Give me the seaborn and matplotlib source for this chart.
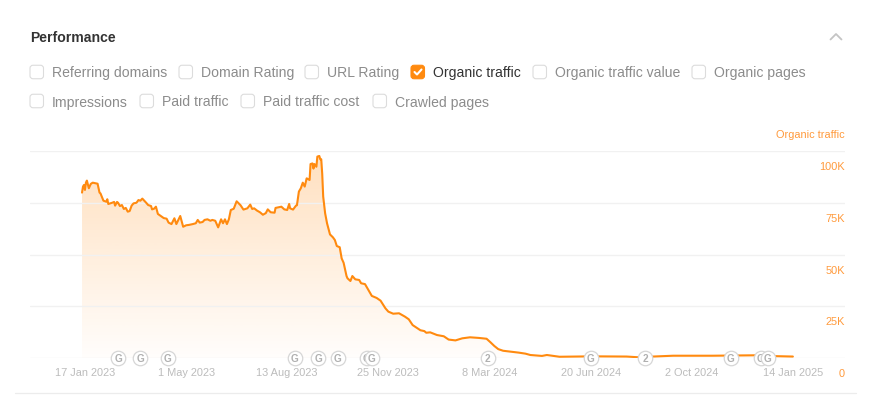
import matplotlib

matplotlib.use("Agg")
import matplotlib.pyplot as plt
import numpy as np
import pandas as pd
import seaborn as sns
from matplotlib.colors import to_rgb
from matplotlib.patches import FancyBboxPatch
from matplotlib.transforms import ScaledTranslation

W, H = 871, 420
ORANGE = "#ff8a0f"
ORANGE_TEXT = "#ff9a3c"

START_DATE = "2023-01-14"
# days since START_DATE
days = [
    0, 1, 2, 3, 4, 5, 7, 9, 11, 16, 18, 19, 22, 25, 26, 27, 31, 33, 34, 36,
    37, 39, 41, 43, 45, 47, 49, 51, 53, 56, 58, 60, 62, 65, 68, 71, 72, 74, 76, 78,
    81, 84, 87, 89, 92, 95, 97, 99, 101, 103, 104, 107, 110, 114, 117, 119, 121, 124, 126, 129,
    132, 134, 137, 140, 143, 145, 147, 149, 151, 153, 156, 159, 163, 166, 170, 173, 175, 177, 180, 183,
    186, 189, 191, 194, 198, 199, 202, 205, 208, 211, 213, 214, 217, 220, 221, 223, 225, 227, 229, 231,
    234, 235, 237, 238, 239, 241, 242, 244, 245, 246, 247, 248, 250, 252, 255, 258, 260, 262, 265, 267,
    269, 272, 273, 276, 278, 281, 285, 287, 291, 295, 298, 303, 307, 312, 315, 320, 326, 332, 336, 340,
    345, 348, 352, 354, 358, 365, 372, 377, 384, 391, 399, 408, 416, 420, 424, 428, 433, 440, 449, 456,
    461, 473, 478, 491, 525, 560, 574, 587, 608, 648, 691, 704, 731,
]
# organic traffic, thousands
traffic = [
    79.9, 82.8, 83.6, 81.2, 84.7, 85.7, 82.0, 84.1, 84.7, 84.2, 79.9, 79.5, 76.0, 75.5, 76.7, 74.4, 75.0, 75.4, 73.6, 75.4,
    75.0, 73.4, 73.9, 72.0, 72.5, 70.7, 71.0, 73.6, 74.7, 75.0, 76.3, 76.0, 77.0, 75.5, 73.9, 73.4, 71.8, 72.1, 73.1, 69.6,
    68.6, 67.6, 67.3, 65.4, 64.7, 67.5, 64.7, 66.7, 68.6, 65.1, 63.4, 64.1, 64.3, 64.7, 65.1, 66.7, 65.4, 65.7, 66.7, 67.0,
    66.3, 66.7, 66.3, 63.1, 67.0, 65.1, 67.0, 64.7, 67.0, 71.5, 72.1, 75.7, 73.8, 71.7, 72.3, 74.1, 72.0, 72.3, 71.2, 70.4,
    69.2, 70.0, 71.8, 70.4, 70.2, 72.5, 72.8, 73.1, 71.8, 71.5, 74.4, 72.3, 71.7, 73.6, 73.8, 80.4, 82.0, 84.7, 82.8, 86.8,
    86.0, 93.7, 94.0, 91.5, 93.7, 92.4, 97.3, 97.6, 96.0, 96.0, 89.0, 78.0, 69.9, 65.0, 59.7, 58.3, 57.0, 54.1, 53.5, 48.1,
    46.0, 39.6, 38.5, 37.2, 39.6, 38.0, 37.7, 36.1, 35.7, 32.5, 30.0, 29.0, 27.7, 24.0, 22.4, 21.4, 21.6, 20.0, 18.7, 15.9,
    14.3, 13.4, 13.0, 12.2, 12.4, 11.1, 10.5, 8.9, 8.5, 9.5, 10.0, 9.7, 9.3, 7.6, 5.8, 4.3, 3.5, 3.1, 2.6, 2.1,
    1.45, 1.0, 1.45, 0.6, 0.8, 0.7, 0.3, 0.7, 1.1, 1.1, 1.3, 1.0, 0.7,
]

y_ticks = [0, 25, 50, 75, 100]
y_tick_labels = ["0", "25K", "50K", "75K", "100K"]
x_tick_dates = [
    "2023-01-17", "2023-05-01", "2023-08-13", "2023-11-25",
    "2024-03-08", "2024-06-20", "2024-10-02", "2025-01-14",
]
x_tick_labels = [
    "17 Jan 2023", "1 May 2023", "13 Aug 2023", "25 Nov 2023",
    "8 Mar 2024", "20 Jun 2024", "2 Oct 2024", "14 Jan 2025",
]
event_dates = [
    "2023-02-20", "2023-03-15", "2023-04-12", "2023-08-21", "2023-09-14",
    "2023-10-04", "2023-11-03", "2023-11-08", "2024-03-06", "2024-06-20",
    "2024-08-15", "2024-11-11", "2024-12-12", "2024-12-19",
]
event_marks = ["G", "G", "G", "G", "G", "G", "G", "G", "2", "G", "2", "G", "G", "G"]

row_one = ["Referring domains", "Domain Rating", "URL Rating", "Organic traffic",
           "Organic traffic value", "Organic pages"]
row_two = ["Impressions", "Paid traffic", "Paid traffic cost", "Crawled pages"]

sns.set_theme(style="white")
plt.rcParams["font.family"] = ["Liberation Sans", "DejaVu Sans"]

fig = plt.figure(figsize=(W / 100, H / 100), dpi=100, facecolor="white")

# page furniture in pixel coordinates
ui = fig.add_axes([0, 0, 1, 1])
ui.set_xlim(0, W)
ui.set_ylim(H, 0)
ui.axis("off")


def px(size):
    return size * 72 / 100


def checkbox(x, y, label, checked=False):
    size = 13.5
    box = FancyBboxPatch(
        (x + 2, y - size / 2 + 2), size - 4, size - 4,
        boxstyle="round,pad=2,rounding_size=3",
        fc=ORANGE if checked else "white",
        ec=ORANGE if checked else "#dcdcdc",
        lw=0.8,
    )
    ui.add_patch(box)
    if checked:
        ui.plot([x + 3.5, x + 6, x + 10.5], [y, y + 2.5, y - 2.5], color="white", lw=1.5)
    ui.text(x + 22, y, label, ha="left", va="center_baseline", fontsize=px(14),
            color="#333333" if checked else "#8c8c8c")


for x, label in zip([30, 179, 305, 411, 533, 692], row_one):
    checkbox(x, 72, label, checked=label == "Organic traffic")
for x, label in zip([30, 140, 241, 373], row_two):
    checkbox(x, 101, label)

ui.text(30, 37, "Performance", ha="left", va="center_baseline", fontsize=px(14),
        fontweight="bold", color="#333333")
ui.plot([830.5, 836, 841.5], [39.5, 34, 39.5], color="#c4c4c4", lw=1.3)
ui.text(845, 134, "Organic traffic", ha="right", va="center_baseline", fontsize=px(11),
        color=ORANGE_TEXT)
ui.plot([15, 856], [393, 393], color="#ececec", lw=0.9)

# chart, y 0..100K sits between pixel rows 358 and 151
ax = fig.add_axes([30 / W, (H - 358) / H, 815 / W, 207 / H])
ax.patch.set_alpha(0)

start = pd.Timestamp(START_DATE)
df = pd.DataFrame({"date": start + pd.to_timedelta(days, unit="D"), "traffic": traffic})

ax.grid(False)
for tick in y_ticks:
    ax.axhline(tick, color="#f1f1f1", lw=1, zorder=2)

sns.lineplot(data=df, x="date", y="traffic", color=ORANGE, lw=1.5, errorbar=None, ax=ax, zorder=4)

x_left = start - pd.Timedelta(days=53.5)
x_right = start + pd.Timedelta(days=784.6)

# gradient under the line, clipped to the area polygon
area = ax.fill_between(df["date"], df["traffic"], 0, color="none")
gradient = np.zeros((256, 1, 4))
gradient[:, :, :3] = to_rgb(ORANGE)
gradient[:, 0, 3] = np.linspace(0.27, 0.015, 256)
image = ax.imshow(
    gradient, aspect="auto", zorder=1,
    extent=[matplotlib.dates.date2num(x_left), matplotlib.dates.date2num(x_right), 0, 100],
)
image.set_clip_path(area.get_paths()[0], transform=ax.transData)

# later markers sit on top of earlier ones
event_x = pd.to_datetime(event_dates)
for i, (when, mark) in enumerate(zip(event_x, event_marks)):
    ax.scatter([when], [0], s=px(14.5) ** 2, fc="white", ec="#d6d6d6", lw=0.9,
               zorder=5 + i, clip_on=False)
    ax.text(when, 0, mark, ha="center", va="center_baseline", fontsize=px(10), fontweight="bold",
            color="#b0b0b0", zorder=5 + i, clip_on=False)

ax.set_xlim(x_left, x_right)
ax.set_ylim(0, 100)
ax.set_xlabel("")
ax.set_ylabel("")
ax.set_xticks(pd.to_datetime(x_tick_dates))
ax.set_xticklabels(x_tick_labels)
ax.tick_params(axis="x", length=0, pad=px(10), labelsize=px(11), labelcolor="#bcbcbc")
ax.yaxis.tick_right()
ax.set_yticks(y_ticks)
ax.set_yticklabels(y_tick_labels)
ax.tick_params(axis="y", length=0, pad=0, labelsize=px(11), labelcolor=ORANGE_TEXT)
shift = ScaledTranslation(0, -15 / 72 * 0.72, fig.dpi_scale_trans)
for label in ax.get_yticklabels():
    label.set_ha("right")
    label.set_transform(label.get_transform() + shift)
sns.despine(ax=ax, left=True, bottom=True, right=True, top=True)

fig.savefig("out.png", dpi=100)
